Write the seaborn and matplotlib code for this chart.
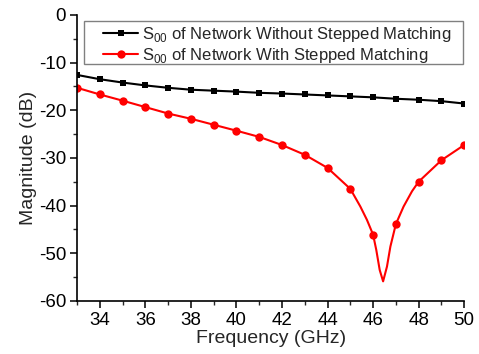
import numpy as np
import pandas as pd
import matplotlib
matplotlib.use("Agg")
import matplotlib.pyplot as plt
import seaborn as sns
from matplotlib.patches import Rectangle
from matplotlib.ticker import MultipleLocator

# Frequency sweep (GHz)
freq_plain = [33, 34, 35, 36, 37, 38, 39, 40, 41, 42, 43, 44, 45, 46, 47, 48, 49, 50]
s_plain = [-12.6, -13.5, -14.2, -14.8, -15.3, -15.7, -15.9, -16.1, -16.35, -16.5,
           -16.7, -16.9, -17.1, -17.3, -17.6, -17.8, -18.1, -18.6]

# Stepped-matching network: sampled points plus extra points along the resonance dip
freq_step = [33, 34, 35, 36, 37, 38, 39, 40, 41, 42, 43, 44, 45, 45.44, 45.73, 46,
             46.14, 46.29, 46.44, 46.61, 46.76, 47, 47.34, 47.71, 48, 49, 50]
s_step = [-15.3, -16.7, -18.0, -19.35, -20.7, -21.8, -23.05, -24.3, -25.6, -27.3,
          -29.35, -32.1, -36.5, -40.2, -43.0, -46.1, -49.3, -53.5, -55.9, -52.8,
          -48.6, -43.9, -40.2, -37.0, -35.0, -30.5, -27.3]

labels = [r"S$_{\mathregular{00}}$ of Network Without Stepped Matching",
          r"S$_{\mathregular{00}}$ of Network With Stepped Matching"]

sns.set_style("ticks")
plt.rcParams["font.family"] = ["Liberation Sans", "DejaVu Sans"]
plt.rcParams["mathtext.fontset"] = "custom"
plt.rcParams["mathtext.rm"] = "Liberation Sans"
plt.rcParams["axes.unicode_minus"] = False

fig = plt.figure(figsize=(4.79, 3.54), dpi=100)
ax = fig.add_axes([0.161, 0.150, 0.808, 0.808])

df1 = pd.DataFrame({"f": freq_plain, "s": s_plain})
df2 = pd.DataFrame({"f": freq_step, "s": s_step})

sns.lineplot(data=df1, x="f", y="s", ax=ax, color="black", lw=1.5,
             marker="s", markersize=5, markeredgewidth=0, label=labels[0])
sns.lineplot(data=df2, x="f", y="s", ax=ax, color="red", lw=1.5,
             marker="o", markersize=6, markeredgewidth=0, label=labels[1])

# markers only at the whole-GHz samples of the stepped series
red_line = ax.get_lines()[1]
red_line.set_markevery([i for i, f in enumerate(freq_step) if float(f).is_integer()])
red_line.set_solid_joinstyle("round")

ax.set_xlim(33, 50)
ax.set_ylim(-60, 0)
ax.xaxis.set_minor_locator(MultipleLocator(1))
ax.yaxis.set_major_locator(MultipleLocator(10))
ax.yaxis.set_minor_locator(MultipleLocator(5))
ax.set_xticks(range(34, 51, 2))
ax.tick_params(which="major", direction="out", length=5, width=1.1, labelsize=13.5,
               colors="black", pad=3)
ax.tick_params(which="minor", direction="out", length=3, width=1.0)
for side in ("top", "right"):
    ax.spines[side].set_visible(False)
for side in ("left", "bottom"):
    ax.spines[side].set_linewidth(1.2)
    ax.spines[side].set_color("black")

ax.set_xlabel("Frequency (GHz)", fontsize=14, labelpad=1)
ax.set_ylabel("Magnitude (dB)", fontsize=14, labelpad=1)

# legend box with generous left padding
frame = Rectangle((0.018, 0.829), 0.979, 0.150, transform=ax.transAxes,
                  facecolor="white", edgecolor="#808080", linewidth=1.0,
                  zorder=4, clip_on=False)
ax.add_patch(frame)
leg = ax.legend(loc="upper left", bbox_to_anchor=(0.067, 0.965), fontsize=12,
                frameon=False, handlelength=2.1, handletextpad=0.25, borderpad=0,
                labelspacing=0.12, borderaxespad=0)
leg.set_zorder(5)

fig.savefig("out.png", dpi=100, facecolor="white")
